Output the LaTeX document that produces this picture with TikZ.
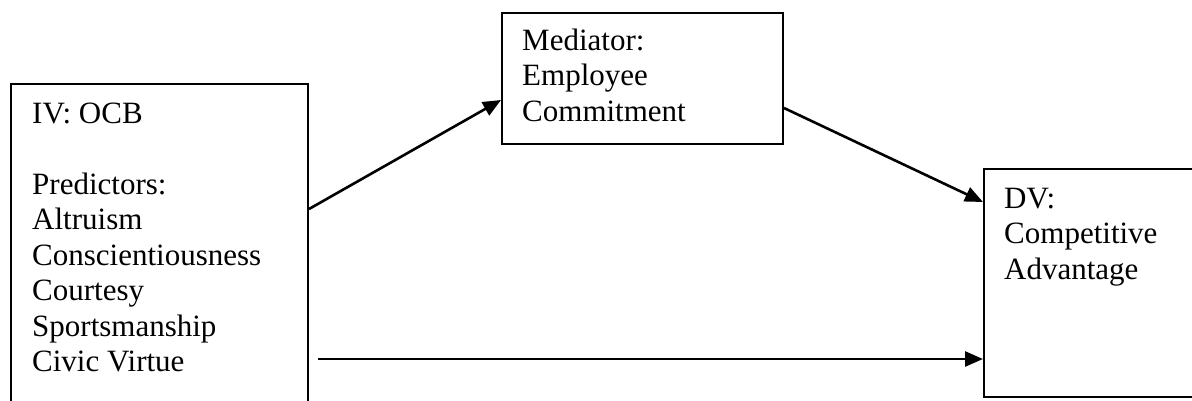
\documentclass[tikz,border=0pt]{standalone}
\usepackage{fontspec}
\setmainfont{Liberation Serif}
\usetikzlibrary{arrows.meta}
\begin{document}
\begin{tikzpicture}[x=1pt,y=-1pt,
  box/.style={draw,line width=2pt,inner sep=0pt,anchor=north west},
  lbl/.style={anchor=base west,align=left,inner sep=0pt,font=\fontsize{31}{35.5}\selectfont},
  conn/.style={line width=2.6pt,-{Triangle[length=18pt,width=15pt]}}]
\clip (0,0) rectangle (1192,400);
% boxes
\node[box,minimum width=297pt,minimum height=340pt] (iv) at (10,83) {};
\node[box,minimum width=281pt,minimum height=131pt] (med) at (501,12) {};
\node[box,minimum width=240pt,minimum height=228pt] (dv) at (983,168) {};
% texts (base anchor = baseline of the last line)
\node[lbl] (ivt) at (32,371.5) {IV: OCB\\[35.5pt]Predictors:\\Altruism\\Conscientiousness\\Courtesy\\Sportsmanship\\Civic Virtue};
\node[lbl] (medt) at (522,121) {Mediator:\\Employee\\Commitment};
\node[lbl] (dvt) at (1004,279) {DV:\\Competitive\\Advantage};
% connector end points on the box edges
\path (0,209) coordinate (y1) (0,100) coordinate (y2) (0,108) coordinate (y3)
      (0,202) coordinate (y4) (0,359) coordinate (y5);
\coordinate (s5) at ([xshift=9pt]iv.east |- y5);
\draw[conn] (iv.east |- y1) -- (med.west |- y2);
\draw[conn] (med.east |- y3) -- (dv.west |- y4);
\draw[conn] (s5) -- (dv.west |- y5);
\end{tikzpicture}
\end{document}
